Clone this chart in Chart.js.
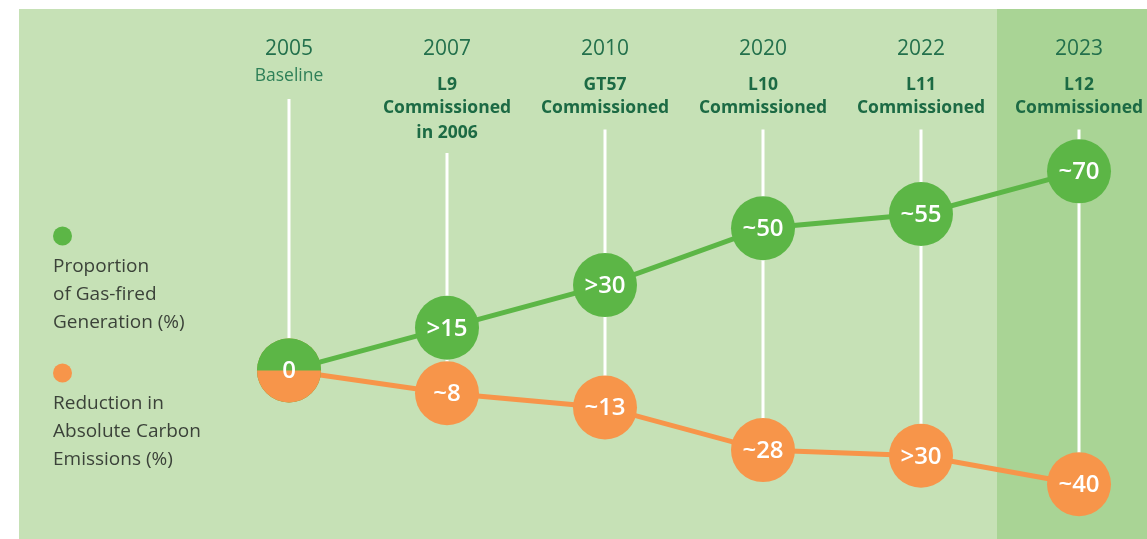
<!DOCTYPE html>
<html>
<head>
<meta charset="utf-8">
<script src="https://cdn.jsdelivr.net/npm/chart.js@4"></script>
<style>
  html, body { margin: 0; padding: 0; background: #ffffff; }
  #wrap { position: relative; width: 1147px; height: 539px; }
</style>
</head>
<body>
<div id="wrap"><canvas id="grafico"></canvas></div>
<script>
// dados
const years = ['2005', '2007', '2010', '2020', '2022', '2023'];
const units = ['', 'L9', 'GT57', 'L10', 'L11', 'L12'];
const notes = [['Baseline'], ['Commissioned', 'in 2006'], ['Commissioned'], ['Commissioned'], ['Commissioned'], ['Commissioned']];
const gasShare = [0, 15, 30, 50, 55, 70];
const gasLabels = ['0', '>15', '>30', '~50', '~55', '~70'];
const carbonCut = [0, 8, 13, 28, 30, 40];
const carbonLabels = ['0', '~8', '~13', '~28', '>30', '~40'];
const legendGas = ['Proportion', 'of Gas-fired', 'Generation (%)'];
const legendCarbon = ['Reduction in', 'Absolute Carbon', 'Emissions (%)'];

const VERDE = '#5cb646';
const LARANJA = '#f7954a';
const FONTE = '"Open Sans", "Noto Sans", sans-serif';

// fundo, coluna destacada, linhas verticais, cabeçalhos e legenda
const decoracao = {
    id: 'decoracao',
    beforeDraw(chart) {
        const ctx = chart.ctx;
        const x = chart.scales.x;
        ctx.save();
        ctx.fillStyle = '#c6e1b6';
        ctx.fillRect(19, 9, chart.width - 19, chart.height - 9);
        const inicio = (x.getPixelForValue(4) + x.getPixelForValue(5)) / 2 - 3;
        ctx.fillStyle = '#a9d495';
        ctx.fillRect(inicio, 9, chart.width - inicio, chart.height - 9);
        ctx.restore();
    },
    beforeDatasetsDraw(chart) {
        const ctx = chart.ctx;
        const x = chart.scales.x;
        const laranja = chart.getDatasetMeta(1).data;
        ctx.save();
        ctx.strokeStyle = '#ffffff';
        ctx.lineWidth = 3;
        years.forEach((ano, i) => {
            const px = x.getPixelForValue(i);
            let ultimo;
            if (units[i] === '') ultimo = 76 + 2;
            else ultimo = 85 + 23.5 * notes[i].length;
            ctx.beginPath();
            ctx.moveTo(px, ultimo + 21);
            ctx.lineTo(px, laranja[i].y);
            ctx.stroke();
        });
        ctx.restore();
    },
    afterDatasetsDraw(chart) {
        const ctx = chart.ctx;
        const verdes = chart.getDatasetMeta(0).data;
        const laranjas = chart.getDatasetMeta(1).data;
        ctx.save();
        // ponto base dividido ao meio
        const p0 = verdes[0];
        ctx.fillStyle = VERDE;
        ctx.beginPath();
        ctx.arc(p0.x, p0.y, 32, Math.PI, 2 * Math.PI);
        ctx.fill();
        ctx.fillStyle = LARANJA;
        ctx.beginPath();
        ctx.arc(p0.x, p0.y, 32, 0, Math.PI);
        ctx.fill();

        ctx.fillStyle = '#ffffff';
        ctx.font = '600 24px ' + FONTE;
        ctx.textAlign = 'center';
        ctx.textBaseline = 'middle';
        ctx.fillText(gasLabels[0], p0.x, p0.y + 1);
        for (let i = 1; i < years.length; i++) {
            ctx.fillText(gasLabels[i], verdes[i].x, verdes[i].y + 1);
            ctx.fillText(carbonLabels[i], laranjas[i].x, laranjas[i].y + 1);
        }
        ctx.restore();
    },
    afterDraw(chart) {
        const ctx = chart.ctx;
        const x = chart.scales.x;
        ctx.save();
        ctx.textAlign = 'center';
        ctx.textBaseline = 'middle';
        years.forEach((ano, i) => {
            const px = x.getPixelForValue(i);
            ctx.fillStyle = '#23704c';
            ctx.font = '21px ' + FONTE;
            ctx.fillText(ano, px, 49);
            if (units[i] === '') {
                ctx.fillStyle = '#2f8058';
                ctx.font = '17.5px ' + FONTE;
                ctx.fillText(notes[i][0], px, 76);
            } else {
                ctx.fillStyle = '#1c6a44';
                ctx.font = 'bold 17.5px ' + FONTE;
                ctx.fillText(units[i], px, 85);
                notes[i].forEach((linha, j) => {
                    ctx.fillText(linha, px, 108.5 + j * 24.5);
                });
            }
        });

        // legenda
        ctx.textAlign = 'left';
        ctx.font = '19px ' + FONTE;
        ctx.fillStyle = VERDE;
        ctx.beginPath();
        ctx.arc(62.5, 236, 9.5, 0, 2 * Math.PI);
        ctx.fill();
        ctx.fillStyle = LARANJA;
        ctx.beginPath();
        ctx.arc(62.5, 373, 9.5, 0, 2 * Math.PI);
        ctx.fill();
        ctx.fillStyle = '#3b4239';
        legendGas.forEach((t, j) => ctx.fillText(t, 53, 267 + j * 28));
        legendCarbon.forEach((t, j) => ctx.fillText(t, 53, 404 + j * 28));
        ctx.restore();
    }
};

const ctx = document.getElementById('grafico').getContext('2d');
const grafico = new Chart(ctx, {
    type: 'line',
    data: {
        labels: years,
        datasets: [
            {
                label: 'Proportion of Gas-fired Generation (%)',
                data: gasShare,
                borderColor: VERDE,
                backgroundColor: VERDE,
                pointBackgroundColor: VERDE,
                borderWidth: 5,
                pointRadius: 32,
                pointHoverRadius: 32,
                pointBorderWidth: 0,
                clip: false
            },
            {
                label: 'Reduction in Absolute Carbon Emissions (%)',
                data: carbonCut.map(v => -v),
                borderColor: LARANJA,
                backgroundColor: LARANJA,
                pointBackgroundColor: LARANJA,
                borderWidth: 5,
                pointRadius: 32,
                pointHoverRadius: 32,
                pointBorderWidth: 0,
                clip: false
            }
        ]
    },
    options: {
        responsive: true,
        maintainAspectRatio: false,
        animation: false,
        layout: { padding: { left: 289, right: 68, top: 86, bottom: 32 } },
        scales: {
            x: { display: false, offset: false },
            y: { display: false, min: -48, max: 100 }
        },
        plugins: {
            legend: { display: false },
            tooltip: { enabled: false }
        },
        events: []
    },
    plugins: [decoracao]
});
</script>
</body>
</html>
